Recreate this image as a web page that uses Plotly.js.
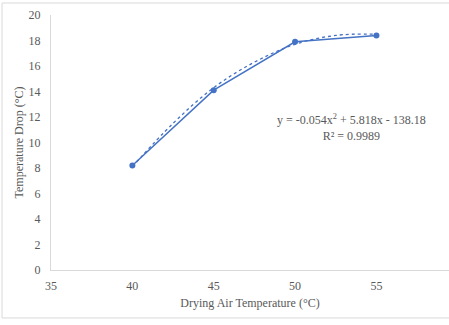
<!DOCTYPE html>
<html><head><meta charset="utf-8">
<script src="https://cdn.plot.ly/plotly-3.0.1.min.js"></script>
<style>html,body{margin:0;padding:0;background:#fff;}#chart{width:449px;height:325px;}</style>
</head><body><div id="chart"></div>
<script>
const dryingTemp = [40, 45, 50, 55];
const tempDrop = [8.2, 14.1, 17.9, 18.4];
const trendX = [40, 42.5, 45, 47.5, 50, 52.5, 55];
const trendY = [8.1, 11.5, 14.3, 16.3, 17.7, 18.4, 18.5];
const xTicks = [35, 40, 45, 50, 55];
const yTicks = [0, 2, 4, 6, 8, 10, 12, 14, 16, 18, 20];
const blue = '#4472C4';
const grey = '#595959';
const font = {family: '"Liberation Serif", "Times New Roman", serif', size: 12, color: grey};
const data = [
  {x: trendX, y: trendY, mode: 'lines', line: {color: blue, width: 1.3, dash: 'dot', shape: 'spline'}, hoverinfo: 'skip'},
  {x: dryingTemp, y: tempDrop, mode: 'lines+markers', line: {color: blue, width: 1.5}, marker: {color: blue, size: 6}}
];
const layout = {
  width: 449, height: 325,
  margin: {l: 51, r: 0, t: 15, b: 55},
  paper_bgcolor: '#fff', plot_bgcolor: '#fff',
  showlegend: false, font: font,
  xaxis: {range: [35, 59.46], tickvals: xTicks, ticks: '', showgrid: false, zeroline: false,
    showline: true, linecolor: '#d9d9d9', linewidth: 1, tickfont: font, ticklabelstandoff: 5,
    title: {text: 'Drying Air Temperature (°C)', font: font, standoff: 6}},
  yaxis: {range: [0, 20], tickvals: yTicks, ticks: '', showgrid: false, zeroline: false,
    showline: true, linecolor: '#d9d9d9', linewidth: 1, tickfont: font, ticklabelstandoff: 7,
    title: {text: 'Temperature Drop (°C)', font: font, standoff: 2}},
  annotations: [{xref: 'paper', yref: 'paper', x: 0.755, y: 0.557, xanchor: 'center', yanchor: 'middle',
    showarrow: false, align: 'center', font: font,
    text: 'y = -0.054x<sup>2</sup> + 5.818x - 138.18<br>R² = 0.9989'}],
  shapes: [{type: 'rect', xref: 'paper', yref: 'paper', x0: -0.123, x1: 1.02, y0: -0.188, y1: 1.047,
    line: {color: '#d9d9d9', width: 1}, fillcolor: 'rgba(0,0,0,0)', layer: 'below'}]
};
Plotly.newPlot('chart', data, layout, {displayModeBar: false, staticPlot: true});
</script></body></html>
